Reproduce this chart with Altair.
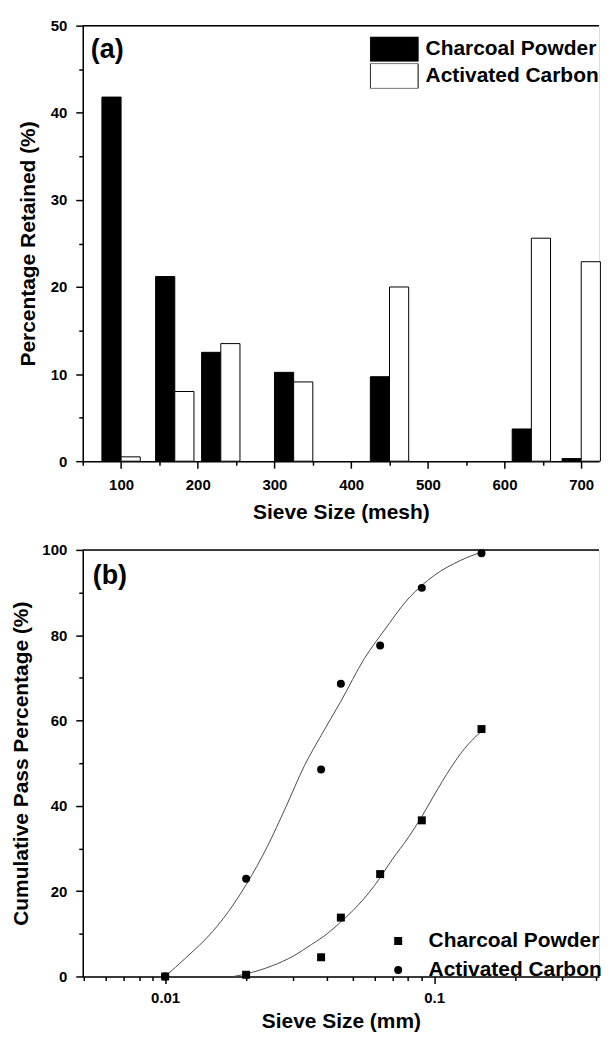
import altair as alt
import pandas as pd

# ---------------- data ----------------
series = ["Charcoal Powder", "Activated Carbon"]

# panel (a): percentage retained on each sieve (mesh)
mesh = [100, 170, 230, 325, 450, 635, 700]
charcoal_retained = [41.8, 21.2, 12.5, 10.2, 9.7, 3.7, 0.3]
activated_retained = [0.5, 8.0, 13.5, 9.1, 20.0, 25.6, 22.9]

# panel (b): cumulative pass percentage vs sieve size (mm)
sieve_mm = [0.01, 0.02, 0.038, 0.045, 0.063, 0.09, 0.15]
charcoal_pass = [0.0, 0.4, 4.5, 13.8, 24.0, 36.6, 58.0]
activated_pass = [0.0, 22.9, 48.5, 68.6, 77.6, 91.1, 99.2]

# fitted curves
fit_activated_x = [0.0100, 0.0120, 0.0150, 0.0180, 0.0200, 0.0240, 0.0280, 0.0330,
                   0.0380, 0.0450, 0.0550, 0.0650, 0.0800, 0.1000, 0.1250, 0.1500]
fit_activated_y = [0.0, 4.5, 10.5, 17.0, 21.5, 30.5, 39.5, 49.5,
                   56.5, 64.5, 74.5, 81.0, 88.5, 94.0, 97.5, 99.5]
fit_charcoal_x = [0.0180, 0.0200, 0.0250, 0.0300, 0.0350, 0.0400, 0.0450, 0.0500,
                  0.0600, 0.0700, 0.0800, 0.0900, 0.1000, 0.1150, 0.1300, 0.1500]
fit_charcoal_y = [0.0, 0.6, 2.5, 4.8, 7.5, 10.0, 12.8, 15.5,
                  21.3, 27.5, 32.5, 37.5, 42.5, 48.8, 53.5, 57.5]

x_ticks_a = [50, 100, 150, 200, 250, 300, 350, 400, 450, 500, 550, 600, 650, 700]
y_ticks_a = [0, 5, 10, 15, 20, 25, 30, 35, 40, 45, 50]
x_ticks_b = [0.005, 0.006, 0.007, 0.008, 0.009, 0.01, 0.02, 0.03, 0.04, 0.05,
             0.06, 0.07, 0.08, 0.09, 0.1, 0.2, 0.3, 0.4]
y_ticks_b = [0, 10, 20, 30, 40, 50, 60, 70, 80, 90, 100]

# ---------------- styling ----------------
FONT = "Liberation Sans"
W = 518
HA, HB = 437, 428
BAR_W = 25


def axis(title, values, major_test, title_pad, label_pad=9, **kw):
    return alt.Axis(
        title=title, values=values, grid=False,
        labelExpr=f"({major_test}) ? datum.label : ''",
        tickSize={"condition": {"test": major_test, "value": 7}, "value": 4},
        tickColor="black", tickWidth=1.5, domainColor="black", domainWidth=1.5,
        labelFont=FONT, labelFontSize=15, labelFontWeight="bold", labelColor="black",
        labelPadding=label_pad, titleFont=FONT, titleFontSize=21, titleFontWeight="bold",
        titleColor="black", titlePadding=title_pad, **kw)


def top_border():
    return alt.Chart(pd.DataFrame({"k": [0]})).mark_rule(
        color="black", strokeWidth=1.5
    ).encode(x=alt.value(0), x2=alt.value(W), y=alt.value(0))


# ---------------- panel (a) ----------------
bars_df = pd.DataFrame({
    "mesh": mesh * 2,
    "value": charcoal_retained + activated_retained,
    "series": [series[0]] * len(mesh) + [series[1]] * len(mesh),
})

bars = alt.Chart(bars_df).transform_calculate(
    x0=f"datum.mesh + (datum.series == '{series[0]}' ? -{BAR_W} : 0)",
).transform_calculate(
    x1=f"datum.x0 + {BAR_W}"
).mark_rect(stroke="black", strokeWidth=1).encode(
    x=alt.X("x0:Q", scale=alt.Scale(domain=[50, 723.2], nice=False, zero=False),
            axis=axis("Sieve Size (mesh)", x_ticks_a, "datum.value % 100 === 0", 9)),
    x2="x1:Q",
    y=alt.Y("value:Q", scale=alt.Scale(domain=[0, 50], nice=False),
            axis=axis("Percentage Retained (%)", y_ticks_a, "datum.value % 10 === 0", 12)),
    y2=alt.datum(0),
    color=alt.Color("series:N", scale=alt.Scale(domain=series, range=["black", "white"]),
                    legend=alt.Legend(
                        title=None, orient="none", legendX=288, legendY=11,
                        symbolType="M-1,-0.52H1V0.52H-1Z", symbolSize=2304,
                        symbolStrokeColor="black", symbolStrokeWidth=1, clipHeight=25,
                        rowPadding=2, labelOffset=7, padding=0, labelLimit=400,
                        labelFont=FONT, labelFontSize=21, labelFontWeight="bold",
                        labelColor="black")),
)

label_a = alt.Chart(pd.DataFrame({"panel": ["(a)"]})).mark_text(
    font=FONT, fontSize=27, fontWeight="bold", align="left", baseline="middle", color="black"
).encode(x=alt.value(8), y=alt.value(24), text="panel:N")

top = alt.layer(bars, top_border(), label_a).properties(width=W, height=HA)

# ---------------- panel (b) ----------------
pts_df = pd.DataFrame({
    "size": sieve_mm * 2,
    "pass": charcoal_pass + activated_pass,
    "series": [series[0]] * len(sieve_mm) + [series[1]] * len(sieve_mm),
})
fit_df = pd.DataFrame({
    "size": fit_charcoal_x + fit_activated_x,
    "pass": fit_charcoal_y + fit_activated_y,
    "series": [series[0]] * len(fit_charcoal_x) + [series[1]] * len(fit_activated_x),
})

xb = alt.X("size:Q", scale=alt.Scale(type="log", domain=[0.00494, 0.4101], nice=False),
           axis=axis("Sieve Size (mm)", x_ticks_b,
                     "datum.value === 0.01 || datum.value === 0.1", 5, label_pad=7))
yb = alt.Y("pass:Q", scale=alt.Scale(domain=[0, 100], nice=False),
           axis=axis("Cumulative Pass Percentage (%)", y_ticks_b,
                     "datum.value % 20 === 0", 10))

lines = alt.Chart(fit_df).mark_line(
    color="#4a4a4a", strokeWidth=1, interpolate="monotone"
).encode(x=xb, y=yb, detail="series:N")

points = alt.Chart(pts_df).mark_point(filled=True, size=64, color="black", opacity=1).encode(
    x=xb, y=yb,
    shape=alt.Shape("series:N", scale=alt.Scale(domain=series, range=["square", "circle"]),
                    legend=alt.Legend(
                        title=None, orient="none", legendX=306, legendY=382,
                        symbolSize=64, symbolFillColor="black", symbolStrokeColor="black",
                        clipHeight=21, rowPadding=7, labelOffset=20, padding=0,
                        labelLimit=400,
                        labelFont=FONT, labelFontSize=21, labelFontWeight="bold",
                        labelColor="black")),
)

label_b = alt.Chart(pd.DataFrame({"panel": ["(b)"]})).mark_text(
    font=FONT, fontSize=27, fontWeight="bold", align="left", baseline="middle", color="black"
).encode(x=alt.value(10), y=alt.value(26), text="panel:N")

bottom = alt.layer(lines, points, top_border(), label_b).properties(width=W, height=HB)

chart = alt.vconcat(top, bottom, spacing=19).resolve_scale(
    color="independent", shape="independent"
).resolve_legend(color="independent", shape="independent").properties(
    padding={"left": 2, "top": 8, "right": 0, "bottom": 0}
).configure_view(stroke=None).configure(background="white")

chart.save("out.html", embed_options={"renderer": "svg", "actions": False})
